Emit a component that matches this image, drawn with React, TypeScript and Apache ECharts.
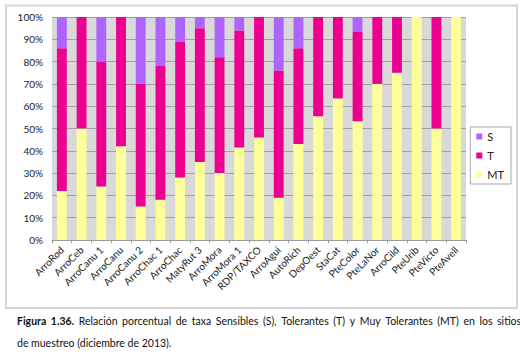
import React, { useEffect, useRef } from 'react';
import * as echarts from 'echarts';

const categories = [
  'ArroRod', 'ArroCeb', 'ArroCanu 1', 'ArroCanu', 'ArroCanu 2', 'ArroChac 1', 'ArroChac',
  'MatyRut 3', 'ArroMora', 'ArroMora 1', 'RDP/TAXCO', 'ArroAgui', 'AutoRich', 'DepOest',
  'StaCat', 'PteColor', 'PteLaNor', 'ArroCild', 'PteUrib', 'PteVicto', 'PteAvell',
];
const mtValues = [22, 50, 24, 42, 15, 18, 28, 35, 30, 41.5, 46, 19, 43, 55.5, 63.5, 53.3, 70, 75, 100, 50, 100];
const tValues = [64, 50, 56, 58, 55, 60, 61, 60, 52, 52.5, 54, 57, 43, 44.5, 36.5, 40, 30, 25, 0, 50, 0];
const sValues = [14, 0, 20, 0, 30, 22, 11, 5, 18, 6, 0, 24, 14, 0, 0, 6.7, 0, 0, 0, 0, 0];
const seriesNames = ['S', 'T', 'MT'];
const captionBoldWords = ['Figura', '1.36.'];
const captionLine1Words = 'Relación porcentual de taxa Sensibles (S), Tolerantes (T) y Muy Tolerantes (MT) en los sitios'.split(' ');
const captionLine2 = 'de muestreo (diciembre de 2013).';

const colors = { S: '#b064ff', T: '#ec0090', MT: '#ffff99' };
const font = 'Lato, "Open Sans", sans-serif';

export default function App() {
  const ref = useRef<HTMLDivElement>(null);
  useEffect(() => {
    if (!ref.current) return;
    const chart = echarts.init(ref.current, undefined, { renderer: 'svg' });
    const mk = (name: string, data: number[], color: string) => ({
      name,
      type: 'bar',
      stack: 'all',
      data,
      barWidth: '50%',
      itemStyle: { color },
      emphasis: { disabled: true },
    });
    const sp = '{sp| }';
    const line1 =
      captionBoldWords.map((w) => '{b|' + w + '}').join(sp) + sp + captionLine1Words.join(sp);
    chart.setOption({
      animation: false,
      backgroundColor: '#ffffff',
      textStyle: { fontFamily: font },
      grid: {
        left: 52, right: 54, top: 17, bottom: 116,
        show: true, backgroundColor: '#d9d9d9', borderWidth: 0,
      },
      legend: {
        data: seriesNames,
        orient: 'vertical',
        right: 9,
        top: 127,
        icon: 'rect',
        itemWidth: 6,
        itemHeight: 6,
        itemGap: 8,
        padding: [4, 7, 4, 6],
        borderColor: '#a8a8a8',
        borderWidth: 1,
        backgroundColor: '#ffffff',
        textStyle: { fontSize: 11, color: '#222', fontFamily: font },
      },
      xAxis: {
        type: 'category',
        data: categories,
        axisLine: { show: true, lineStyle: { color: '#999' } },
        axisTick: { show: true, length: 3, lineStyle: { color: '#999' } },
        axisLabel: { rotate: 45, fontSize: 10, color: '#222', margin: 8, fontFamily: font },
      },
      yAxis: {
        type: 'value',
        min: 0,
        max: 100,
        interval: 10,
        axisLine: { show: false },
        axisTick: { show: false },
        axisLabel: { formatter: '{value}%', fontSize: 10, color: '#222', margin: 9, fontFamily: font },
        splitLine: { lineStyle: { color: '#a0a0a0', width: 1 } },
      },
      series: [
        mk('MT', mtValues, colors.MT),
        mk('T', tValues, colors.T),
        mk('S', sValues, colors.S),
      ],
      graphic: [
        {
          type: 'rect',
          shape: { x: 6, y: 5.5, width: 511, height: 302.5 },
          style: { fill: 'none', stroke: '#d6d6d6', lineWidth: 2 },
          silent: true,
        },
        {
          type: 'text',
          x: 17,
          y: 321,
          style: {
            text: line1,
            fontSize: 10.5,
            fontFamily: font,
            fill: '#111',
            verticalAlign: 'middle',
            rich: {
              b: { fontWeight: 'bold', fontSize: 10.5, fontFamily: font, fill: '#111' },
              sp: { width: 4.6, fontSize: 10.5, fontFamily: font },
            },
          },
        },
        {
          type: 'text',
          x: 17,
          y: 343,
          style: {
            text: captionLine2,
            fontSize: 10.5,
            fontFamily: font,
            fill: '#111',
            verticalAlign: 'middle',
          },
        },
      ],
    });
    return () => chart.dispose();
  }, []);
  return (
    <div
      ref={ref}
      style={{ position: 'absolute', left: 0, top: 0, width: 520, height: 356, background: '#fff' }}
    />
  );
}
